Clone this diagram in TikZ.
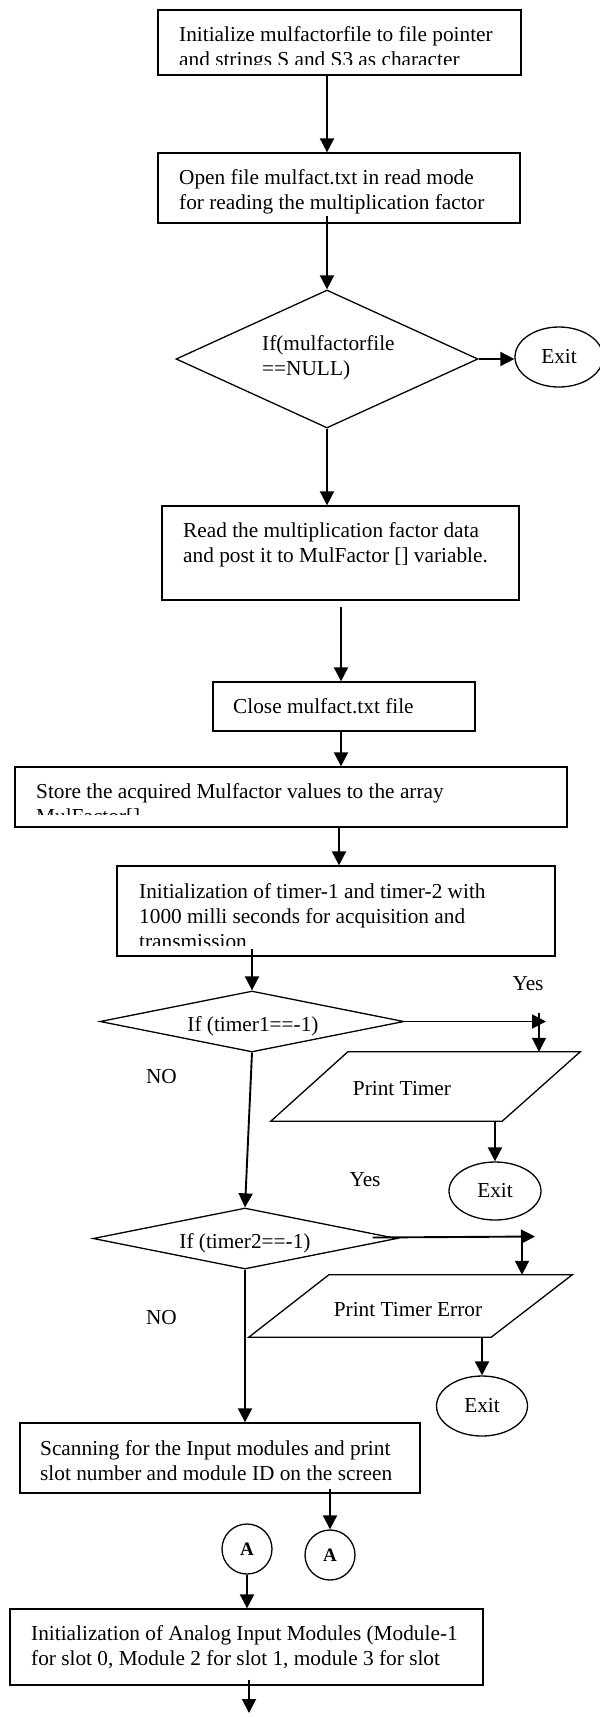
\documentclass[tikz,border=0pt]{standalone}
\usepackage{fontspec}
\setmainfont{Liberation Serif}
\usetikzlibrary{shapes.geometric,arrows.meta}
\begin{document}
\begin{tikzpicture}[x=1pt,y=-1pt,
  box/.style={draw,line width=1.3pt,rectangle,inner sep=0pt},
  dia/.style={draw,line width=1.3pt,diamond,inner sep=0pt},
  pbox/.style={rectangle,inner sep=0pt},
  pline/.style={line width=1.3pt,line join=miter},
  oval/.style={draw,line width=1.3pt,ellipse,inner sep=0pt,font=\fontsize{21.3}{25}\selectfont},
  circ/.style={draw,line width=1.3pt,circle,inner sep=0pt,minimum size=50pt,font=\fontsize{19}{22}\selectfont\bfseries},
  txt/.style={inner sep=0pt,anchor=base west,align=left,font=\fontsize{21.3}{25}\selectfont},
  ctxt/.style={inner sep=0pt,anchor=base,font=\fontsize{21.3}{25}\selectfont},
  arr/.style={line width=1.9pt,-{Triangle[length=14pt,width=14pt]}}]

\useasboundingbox (0,0) rectangle (600,1717);
\fill[white] (0,0) rectangle (600,1717);

% ---------- shapes ----------
\node[box,minimum width=363pt,minimum height=65pt] (b1) at (339.5,42.5) {};
\node[box,minimum width=362pt,minimum height=70pt] (b2) at (339,188) {};
\node[dia,minimum width=302pt,minimum height=138pt] (d1) at (327,359) {};
\node[oval,minimum width=88pt,minimum height=60pt] (e1) at (559,357) {Exit};
\node[box,minimum width=357pt,minimum height=94pt] (b3) at (340.5,553) {};
\node[box,minimum width=262pt,minimum height=49pt] (b4) at (344,706.5) {};
\node[box,minimum width=552pt,minimum height=60pt] (b5) at (291,797) {};
\node[box,minimum width=438pt,minimum height=90pt] (b6) at (336,911) {};
\node[dia,minimum width=304pt,minimum height=61pt] (d2) at (252,1021.5) {};
\node[pbox,minimum width=309pt,minimum height=69pt] (p1) at (425.5,1086.5) {};
\draw[pline] ([xshift=77pt]p1.north west) -- (p1.north east)
  -- ([xshift=-78pt]p1.south east) -- (p1.south west) -- cycle;
\node[oval,minimum width=92pt,minimum height=58pt] (e2) at (495,1191) {Exit};
\node[dia,minimum width=304pt,minimum height=61pt] (d3) at (245,1238.5) {};
\node[pbox,minimum width=323pt,minimum height=62pt] (p2) at (410.5,1306) {};
\draw[pline] ([xshift=80pt]p2.north west) -- (p2.north east)
  -- ([xshift=-81pt]p2.south east) -- (p2.south west) -- cycle;
\node[oval,minimum width=91pt,minimum height=60pt] (e3) at (482,1406) {Exit};
\node[box,minimum width=400pt,minimum height=70pt] (b7) at (220,1458) {};
\node[circ] (cA1) at (247,1549) {A};
\node[circ] (cA2) at (330,1555) {A};
\node[box,minimum width=473pt,minimum height=76pt] (b8) at (246.5,1647) {};

% ---------- texts (anchor = baseline of the last line) ----------
\begin{scope}
  \clip (159,11) rectangle (520,64);
  \node[txt] (t1) at (179,66) {Initialize mulfactorfile to file pointer\\and strings S and S3 as character};
\end{scope}
\node[txt] (t2) at (179,209) {Open file mulfact.txt in read mode\\for reading the multiplication factor};
\node[txt] (td1) at (262,375) {If(mulfactorfile\\==NULL)};
\node[txt] (t3) at (183,562) {Read the multiplication factor data\\and post it to MulFactor [] variable.};
\node[txt] (t4) at (233,713) {Close mulfact.txt file};
\begin{scope}
  \clip (16,768) rectangle (566,814);
  \node[txt] (t5) at (36,823) {Store the acquired Mulfactor values to the array\\MulFactor[]};
\end{scope}
\begin{scope}
  \clip (118,867) rectangle (554,945);
  \node[txt] (t6) at (139,948) {Initialization of timer-1 and timer-2 with\\1000 milli seconds for acquisition and\\transmission};
\end{scope}
\node[ctxt] (td2) at (253,1031) {If (timer1==-1)};
\node[ctxt] (tp1) at (402,1095) {Print Timer};
\node[ctxt] (td3) at (245,1248) {If (timer2==-1)};
\node[ctxt] (tp2) at (408,1316) {Print Timer Error};
\node[txt] (t7) at (40,1480) {Scanning for the Input modules and print\\slot number and module ID on the screen};
\node[txt] (t8) at (31,1665) {Initialization of Analog Input Modules (Module-1\\for slot 0, Module 2 for slot 1, module 3 for slot};

\node[ctxt] (yes1) at (528,990) {Yes};
\node[ctxt] (yes2) at (365,1186) {Yes};
\node[ctxt] (no1) at (161.5,1083) {NO};
\node[ctxt] (no2) at (161.5,1324) {NO};

% ---------- connectors ----------
\draw[arr] (b1.south -| d1.north) -- (b2.north -| d1.north);
\draw[arr] ([yshift=8pt]b2.south -| d1.north) -- (d1.north);
\draw[arr] (d1.east) -- (d1.east -| e1.west);
\draw[arr] (d1.south) -- (d1.south |- b3.north);
\draw[arr] ([xshift=0.5pt,yshift=-6pt]b3.south) -- ([xshift=0.5pt]b3.south |- b4.north);
\draw[arr] ([xshift=-3pt]b4.south) -- ([xshift=-3pt]b4.south |- b5.north);
\draw[arr] ([xshift=3pt]b6.north |- b5.south) -- ([xshift=3pt]b6.north);
\draw[arr] ([yshift=8pt]b6.south -| d2.north) -- (d2.north);

\coordinate (y1) at (546,1021.5);
\coordinate (y1d) at (539,1013);
\draw[arr] (d2.east) -- (y1);
\draw[arr] (y1d) -- (y1d |- p1.north);
\draw[arr] (e2.north |- p1.south) -- (e2.north);

\draw[arr] (d2.south) -- (d3.north);

\coordinate (y2s) at ([xshift=-25pt,yshift=1pt]d3.east);
\coordinate (y2) at (535,1236.5);
\coordinate (y2d) at (522,1236.5);
\draw[arr] (y2s) -- (y2);
\draw[arr] (y2d) -- (y2d |- p2.north);
\draw[arr] (e3.north |- p2.south) -- (e3.north);

\draw[arr] (d3.south) -- (d3.south |- b7.north);
\draw[arr] ([yshift=5pt]b7.south -| cA2.north) -- (cA2.north);
\draw[arr] (cA1.south) -- (cA1.south |- b8.north);
\coordinate (fin) at (249,1713);
\draw[arr] ([yshift=6pt]b8.south -| fin) -- (fin);
\end{tikzpicture}
\end{document}
